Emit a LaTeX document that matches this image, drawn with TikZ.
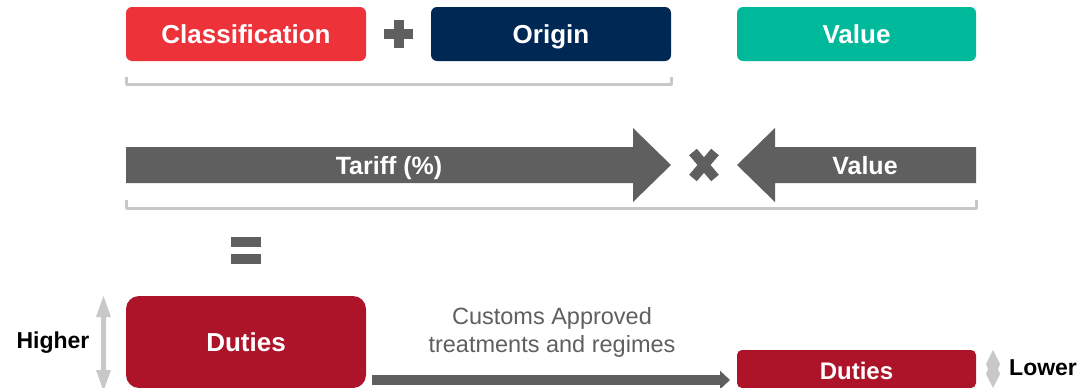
\documentclass[tikz,border=0pt]{standalone}
\usepackage{fontspec}
\setmainfont{Liberation Sans}
\usetikzlibrary{arrows.meta,calc}
\definecolor{cred}{HTML}{EE3239}
\definecolor{cnavy}{HTML}{002855}
\definecolor{cteal}{HTML}{00B99A}
\definecolor{cdark}{HTML}{AD1429}
\definecolor{cgray}{HTML}{5F5F5F}
\definecolor{clight}{HTML}{C8C8C8}
\begin{document}
\begin{tikzpicture}[x=1pt,y=-1pt,
  box/.style={inner sep=0pt,outer sep=0pt,rounded corners=6pt,text=white,
    font=\fontsize{26}{30}\selectfont\bfseries,minimum height=54pt,
    text height=18.7pt,text depth=0pt},
  lbl/.style={inner sep=0pt,font=\fontsize{25}{30}\selectfont\bfseries,text=white,
    text height=18pt,text depth=0pt},
  side/.style={inner sep=0pt,font=\fontsize{23}{28}\selectfont\bfseries,text=black,
    text height=16.5pt,text depth=0pt},
  brk/.style={draw=clight,line width=3pt,line join=round},
  sym/.style={fill=cgray,draw=none},
  conn/.style={draw=cgray,line width=10pt,-{Triangle[length=10pt,width=18pt]}},
  updown/.style={fill=clight,draw=none}]
\useasboundingbox (0,0) rectangle (1090,388);
% top row
\node[box,fill=cred,minimum width=240pt] (cls) at (246,34) {Classification};
\node[box,fill=cnavy,minimum width=240pt] (org) at (551,34) {Origin};
\node[box,fill=cteal,minimum width=239pt] (val) at (856.5,34) {Value};
\fill[sym] (384,29) rectangle (413,39);
\fill[sym] (393.5,20) rectangle (403.5,48);
\draw[brk] (cls.south west |- 0,77) -- (cls.south west |- 0,84) -- (org.south east |- 0,84) -- (org.south east |- 0,77);
% arrows
\fill[cgray] (126,147) -- (633,147) -- (633,128) -- (671,165) -- (633,202) -- (633,183) -- (126,183) -- cycle;
\node[lbl] (tar) at (389,165) {Tariff (\%)};
\fill[cgray] (976,147) -- (775,147) -- (775,128) -- (737,165) -- (775,202) -- (775,183) -- (976,183) -- cycle;
\node[lbl] (val2) at (865,165) {Value};
\draw[cgray,line width=10pt,line cap=butt] (693,152) -- (715,178);
\draw[cgray,line width=10pt,line cap=butt] (715,152) -- (693,178);
\draw[brk] (126,200) -- (126,208) -- (976,208) -- (976,200);
% equals
\fill[sym] (231,237) rectangle (261,247);
\fill[sym] (231,254) rectangle (261,264);
% bottom
\node[box,fill=cdark,minimum width=240pt,minimum height=92pt,rounded corners=13pt] (d1) at (246,342) {Duties};
\node[box,fill=cdark,minimum width=239pt,minimum height=38pt,rounded corners=5pt,text height=17pt] (d2) at (856.5,369) {};
\node[lbl,font=\fontsize{24}{28}\selectfont\bfseries,text height=17pt] (d2t) at (856.5,371) {Duties};
\draw[conn] ($(d1.south east)+(6,-8)$) -- ($(d2.south west)+(-7,-8)$);
\node[align=center,text=cgray,inner sep=0pt,font=\fontsize{23.5}{28}\selectfont] (txt) at (552,332) {Customs Approved\\treatments and regimes};
\fill[updown] (103.5,296) -- (111,317) -- (106,317) -- (106,370) -- (111,370) -- (103.5,391) -- (96,370) -- (101,370) -- (101,317) -- (96,317) -- cycle;
\node[side] (hi) at (53,340) {Higher};
\fill[updown] (993,350) -- (1000,364) -- (998,369) -- (1000,374) -- (993,388) -- (986,374) -- (988,369) -- (986,364) -- cycle;
\node[side,anchor=west] (lo) at (1009,367) {Lower};
\end{tikzpicture}
\end{document}
